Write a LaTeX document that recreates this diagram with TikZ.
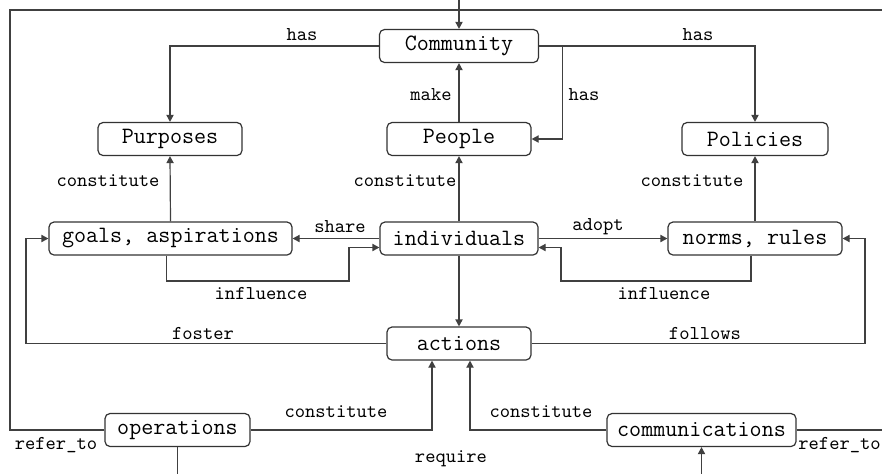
\documentclass[tikz,border=0pt]{standalone}
\usepackage{fontspec}
\usetikzlibrary{arrows.meta}

\begin{document}
\begin{tikzpicture}[
    x=0.5pt, y=-0.5pt,
    box/.style={
        draw=black!80, rounded corners=2.5pt, line width=0.6pt,
        minimum height=16.5pt, inner sep=0pt,
        font=\ttfamily\fontsize{11.7}{13}\selectfont, fill=white
    },
    lbl/.style={font=\ttfamily\fontsize{9.8}{11}\selectfont, inner sep=0pt},
    link/.style={draw=black!75, line width=0.6pt},
    conn/.style={link, -{Triangle[length=3.5pt,width=3.6pt]}}
]
\useasboundingbox (0,0) rectangle (882,473);
\clip (0,0) rectangle (882,473);

\foreach \nm/\x/\y/\w/\txt in {%
    comm/459/46/79.5/Community, purp/170/139/72/Purposes,
    people/459/139/72/People, pol/755/139/73/Policies,
    goals/170.5/238.5/121.5/{goals, aspirations},
    indiv/459/238.5/79/individuals, norms/755/238.5/87/{norms, rules},
    actions/459/343.5/72/actions, ops/177.5/430/72.5/operations,
    comms/701.5/430/94.5/communications%
} {
    \node[box, minimum width=\w pt] (\nm) at (\x,\y) {\txt};
}

% helper points at the crop edges
\coordinate (topin) at (459,-20);
\coordinate (tl) at (10,10);
\coordinate (tr) at (900,10);
\coordinate (rr) at (900,430);
\coordinate (req) at (440,490);
\coordinate (infL) at (349,281);
\coordinate (infR) at (561,281);
\coordinate (fos) at (26,343.5);
\coordinate (fol) at (865,343.5);

\draw[conn] (topin) -- (comm.north);
\draw[conn] (comm.west) -| (purp.north);
\draw[conn] (comm.east) -| (pol.north);
\draw[conn] ([xshift=11.5pt]comm.east) |- (people.east);
\draw[conn] (people.north) -- (comm.south);
\draw[conn] (goals.north) -- (purp.south);
\draw[conn] (indiv.north) -- (people.south);
\draw[conn] (norms.north) -- (pol.south);
\draw[conn] (indiv.west) -- (goals.east);
\draw[conn] (indiv.east) -- (norms.west);
\draw[conn] ([xshift=-2pt]goals.south) |- (infL) |- ([yshift=-4.5pt]indiv.west);
\draw[conn] ([xshift=-2pt]norms.south) |- (infR) |- ([yshift=-4.5pt]indiv.east);
\draw[conn] (indiv.south) -- (actions.north);
\draw[conn] (actions.west) -- (fos) |- (goals.west);
\draw[conn] (actions.east) -- (fol) |- (norms.east);
\draw[conn] (ops.east) -| ([xshift=-13.5pt]actions.south);
\draw[conn] (comms.west) -| ([xshift=5.5pt]actions.south);
\draw[link] (ops.west) -| (tl) -- (tr);
\draw[link] (comms.east) -- (rr);
\draw[conn] (ops.south) |- (req) -| (comms.south);

% labels
\node[lbl] (hasL) at (302,35) {has};
\node[lbl] (hasR) at (698,35) {has};
\node[lbl] (hasM) at (584,95) {has};
\node[lbl] (make) at (431,95) {make};
\node[lbl] (conA) at (108,181) {constitute};
\node[lbl] (conB) at (405,181) {constitute};
\node[lbl] (conC) at (692,181) {constitute};
\node[lbl] (share) at (340,227) {share};
\node[lbl] (adopt) at (598,227) {adopt};
\node[lbl] (infA) at (261,293) {influence};
\node[lbl] (infB) at (664,293) {influence};
\node[lbl] (foster) at (203,333) {foster};
\node[lbl] (follows) at (705,333) {follows};
\node[lbl] (conD) at (336,412) {constitute};
\node[lbl] (conE) at (541,412) {constitute};
\node[lbl] (refA) at (56,445) {refer\_to};
\node[lbl, anchor=west] (refB) at (798,445) {refer\_to};
\node[lbl] (require) at (451,459) {require};
\end{tikzpicture}
\end{document}
